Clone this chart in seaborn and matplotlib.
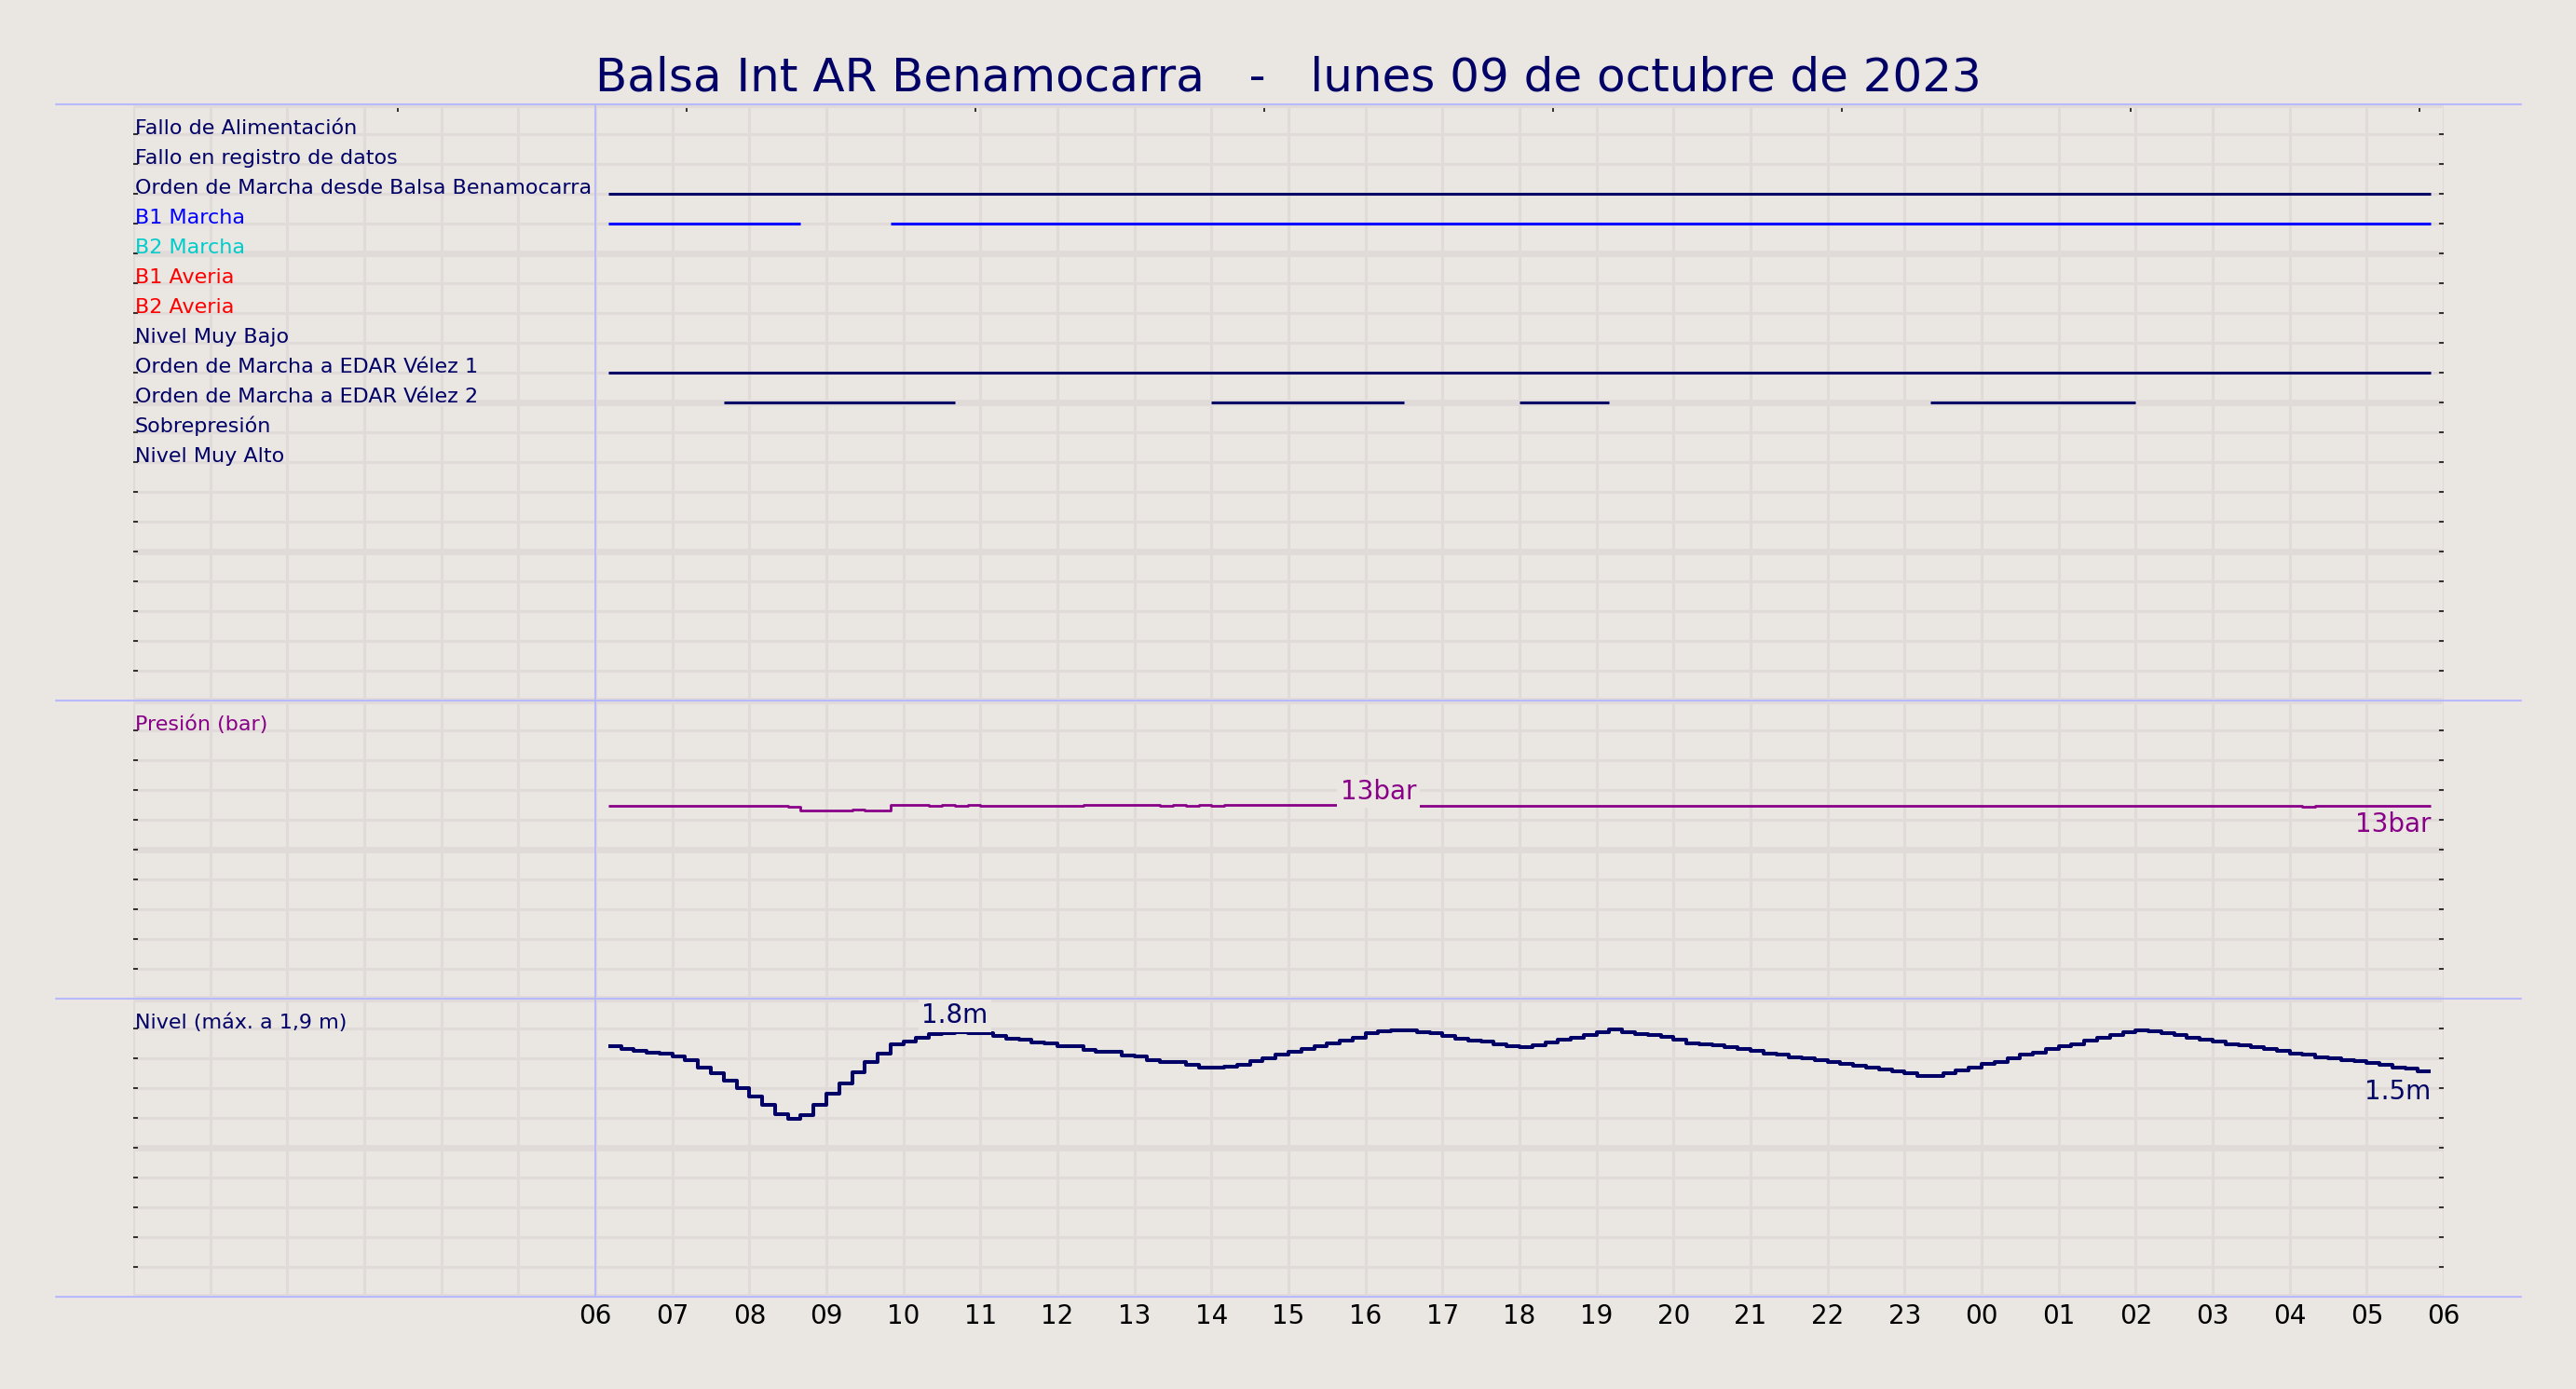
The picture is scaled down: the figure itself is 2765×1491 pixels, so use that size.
import pandas as pd
import numpy as np
import matplotlib
matplotlib.use("Agg")
import matplotlib.pyplot as plt
import seaborn as sns

# ---- data ----
title = "Balsa Int AR Benamocarra   -   lunes 09 de octubre de 2023"
day = "2023-10-09"
first_sample = "2023-10-09 06:10"
last_sample = "2023-10-10 05:50"

signal_labels = ["Fallo de Alimentación", "Fallo en registro de datos",
                 "Orden de Marcha desde Balsa Benamocarra", "B1 Marcha", "B2 Marcha",
                 "B1 Averia", "B2 Averia", "Nivel Muy Bajo",
                 "Orden de Marcha a EDAR Vélez 1", "Orden de Marcha a EDAR Vélez 2",
                 "Sobrepresión", "Nivel Muy Alto"]
signal_colors = ["#000066", "#000066", "#000066", "#0000ff", "#00cccc",
                 "#ff0000", "#ff0000", "#000066", "#000066", "#000066",
                 "#000066", "#000066"]

# on periods (start, end) of each digital signal
orden_balsa_on = [("06:10", "05:50")]
b1_marcha_on = [("06:10", "08:40"), ("09:50", "05:50")]
edar1_on = [("06:10", "05:50")]
edar2_on = [("07:40", "10:40"), ("14:00", "16:30"), ("18:00", "19:10"), ("23:20", "02:00")]

# pressure (bar), one reading every 10 minutes
pressure_bar = [
    12.93, 12.93, 12.93, 12.93, 12.93, 12.93, 12.93, 12.93, 12.93, 12.93, 12.93, 12.93,
    12.93, 12.93, 12.90, 12.63, 12.63, 12.63, 12.63, 12.69, 12.63, 12.63, 12.99, 12.99,
    12.99, 12.93, 12.97, 12.93, 12.97, 12.93, 12.93, 12.93, 12.93, 12.93, 12.93, 12.93,
    12.93, 12.99, 12.99, 12.99, 12.99, 12.99, 12.99, 12.93, 12.97, 12.93, 12.97, 12.93,
    12.99, 12.99, 12.99, 12.99, 12.97, 12.97, 12.97, 12.97, 12.97, 12.97, 12.97, 12.97,
    13.03, 12.97, 12.97, 12.93, 12.95, 12.95, 12.95, 12.95, 12.95, 12.95, 12.95, 12.95,
    12.95, 12.95, 12.95, 12.95, 12.95, 12.95, 12.95, 12.95, 12.95, 12.95, 12.95, 12.95,
    12.95, 12.95, 12.95, 12.95, 12.95, 12.95, 12.95, 12.95, 12.95, 12.95, 12.95, 12.95,
    12.95, 12.95, 12.95, 12.95, 12.95, 12.95, 12.95, 12.95, 12.95, 12.95, 12.95, 12.95,
    12.95, 12.95, 12.95, 12.95, 12.95, 12.95, 12.95, 12.95, 12.95, 12.95, 12.95, 12.95,
    12.95, 12.95, 12.95, 12.95, 12.95, 12.95, 12.95, 12.95, 12.95, 12.95, 12.95, 12.95,
    12.85, 12.95, 12.95, 12.95, 12.95, 12.95, 12.95, 12.95, 12.95, 12.95, 12.95,
]

# level (m), one reading every 10 minutes
level_m = [
    1.682, 1.660, 1.650, 1.638, 1.630, 1.614, 1.586, 1.536, 1.498, 1.452, 1.400, 1.342,
    1.288, 1.226, 1.194, 1.220, 1.288, 1.362, 1.434, 1.508, 1.576, 1.630, 1.696, 1.714,
    1.738, 1.760, 1.766, 1.774, 1.766, 1.766, 1.750, 1.732, 1.724, 1.704, 1.700, 1.682,
    1.682, 1.654, 1.644, 1.644, 1.620, 1.610, 1.586, 1.572, 1.572, 1.556, 1.536, 1.536,
    1.542, 1.556, 1.580, 1.602, 1.626, 1.644, 1.660, 1.682, 1.702, 1.720, 1.738, 1.766,
    1.780, 1.790, 1.790, 1.776, 1.766, 1.748, 1.732, 1.720, 1.714, 1.696, 1.684, 1.676,
    1.690, 1.706, 1.724, 1.738, 1.754, 1.776, 1.792, 1.776, 1.762, 1.758, 1.744, 1.724,
    1.702, 1.696, 1.690, 1.676, 1.664, 1.650, 1.634, 1.624, 1.608, 1.598, 1.588, 1.572,
    1.560, 1.552, 1.536, 1.522, 1.510, 1.498, 1.482, 1.482, 1.500, 1.518, 1.540, 1.560,
    1.576, 1.602, 1.626, 1.640, 1.660, 1.682, 1.692, 1.718, 1.738, 1.754, 1.776, 1.788,
    1.782, 1.770, 1.754, 1.740, 1.728, 1.714, 1.696, 1.686, 1.676, 1.664, 1.650, 1.634,
    1.624, 1.608, 1.598, 1.588, 1.582, 1.566, 1.556, 1.540, 1.530, 1.514, 1.514,
]
level_label_time = "10:40"

hour_labels = ["06", "07", "08", "09", "10", "11", "12", "13", "14", "15", "16", "17",
               "18", "19", "20", "21", "22", "23", "00", "01", "02", "03", "04", "05", "06"]
top_tick_hours = [3.44, 7.19, 10.94, 14.69, 18.44, 22.19, 25.94, 29.69]

# ---- style ----
bg = "#eae6e1"
grid_c = "#e0dbd9"
sep_c = "#b8b8ff"
navy = "#000066"
purple = "#880088"

sns.set_theme(style="whitegrid", rc={"axes.facecolor": bg, "figure.facecolor": bg})
plt.rcParams["font.family"] = ["DejaVu Sans"]


def to_hours(hhmm):
    h, m = map(int, hhmm.split(":"))
    v = h + m / 60
    return v + 24 if v < 6 else v


times = pd.date_range(first_sample, last_sample, freq="10min")
df = pd.DataFrame({
    "hours": (times - pd.Timestamp(day)) / pd.Timedelta(hours=1),
    "pressure": pressure_bar,
    "level": level_m,
})
df["y_pressure"] = 10 + df["pressure"] / 2   # 0..20 bar -> 10..20
df["y_level"] = df["level"] * 5              # 0..2 m -> 0..10

fig = plt.figure(figsize=(27.65, 14.91), dpi=100)
ax = fig.add_axes([0.05172, 0.0664, 0.89693, 0.85848])
ax.set_xlim(0, 30)
ax.set_ylim(0, 40)
for s in ax.spines.values():
    s.set_visible(False)

# grid
ax.set_xticks(range(0, 31))
ax.set_xticklabels([""] * 6 + hour_labels)
ax.set_yticks(range(0, 41, 5))
ax.set_yticks(range(0, 41), minor=True)
ax.set_yticklabels([])
ax.grid(False)
ax.grid(True, which="major", axis="x", color=grid_c, lw=2.2)
ax.grid(True, which="major", axis="y", color=grid_c, lw=5)
ax.grid(True, which="minor", axis="y", color=grid_c, lw=2.2)
ax.set_axisbelow(True)
ax.tick_params(axis="x", which="both", length=0, pad=5, labelsize=20, labelcolor="black")
ax.tick_params(axis="y", which="both", left=True, right=True, direction="in",
               length=3.8, width=1.1, color="black", labelleft=False)

top = ax.secondary_xaxis("top")
top.set_xticks(top_tick_hours)
top.set_xticklabels([])
top.tick_params(direction="in", length=6, width=1.1, color="black")
top.spines["top"].set_visible(False)

# separators
for y in [0, 10, 20, 40]:
    ax.axhline(y, xmin=-0.0335, xmax=1.0335, color=sep_c, lw=1.5, clip_on=False, zorder=1.5)
ax.axvline(6, color=sep_c, lw=1.3, zorder=1.5)

# digital signals
on_periods = {"Orden de Marcha desde Balsa Benamocarra": orden_balsa_on,
              "B1 Marcha": b1_marcha_on,
              "Orden de Marcha a EDAR Vélez 1": edar1_on,
              "Orden de Marcha a EDAR Vélez 2": edar2_on}
for i, (label, col) in enumerate(zip(signal_labels, signal_colors)):
    row = 39 - i
    ax.text(0.02, row, label, color=col, fontsize=16, va="baseline", ha="left")
    for start, end in on_periods.get(label, []):
        ax.hlines(row, to_hours(start), to_hours(end), color=col, lw=2.2, capstyle="butt")

# pressure
ax.text(0.02, 19, "Presión (bar)", color=purple, fontsize=16, va="baseline")
sns.lineplot(data=df, x="hours", y="y_pressure", color=purple, lw=2.0,
             drawstyle="steps-post", estimator=None, ax=ax, solid_capstyle="butt")

# level
ax.text(0.02, 9, "Nivel (máx. a 1,9 m)", color=navy, fontsize=16, va="baseline")
sns.lineplot(data=df, x="hours", y="y_level", color=navy, lw=2.9,
             drawstyle="steps-post", estimator=None, ax=ax, solid_capstyle="butt")
ax.set_xlabel("")
ax.set_ylabel("")

box = dict(boxstyle="square,pad=0.12", fc=bg, ec="none")
# max pressure label
imax = df["pressure"].idxmax()
ax.annotate(f"{df['pressure'].max():.0f}bar", (df["hours"][imax], df["y_pressure"][imax]),
            xytext=(0, 4.3), textcoords="offset points", ha="center", va="baseline",
            fontsize=20, color=purple, bbox=box)
# level peak label
lrow = df[df["hours"] == to_hours(level_label_time)].iloc[0]
ax.annotate(f"{df['level'].max():.1f}m", (lrow["hours"], lrow["y_level"]),
            xytext=(0, 7), textcoords="offset points", ha="center", va="baseline",
            fontsize=20, color=navy, bbox=box)
# last values
last = df.iloc[-1]
ax.annotate(f"{last['pressure']:.0f}bar", (last["hours"], last["y_pressure"]),
            xytext=(0, -20.5), textcoords="offset points", ha="right", va="baseline",
            fontsize=20, color=purple)
ax.annotate(f"{last['level']:.1f}m", (last["hours"], last["y_level"]),
            xytext=(0, -21.5), textcoords="offset points", ha="right", va="baseline",
            fontsize=20, color=navy)

fig.text(0.5, 0.9343, title, ha="center", va="baseline", fontsize=36, color=navy)

fig.savefig("out.png", dpi=100, facecolor=bg)
plt.close()
